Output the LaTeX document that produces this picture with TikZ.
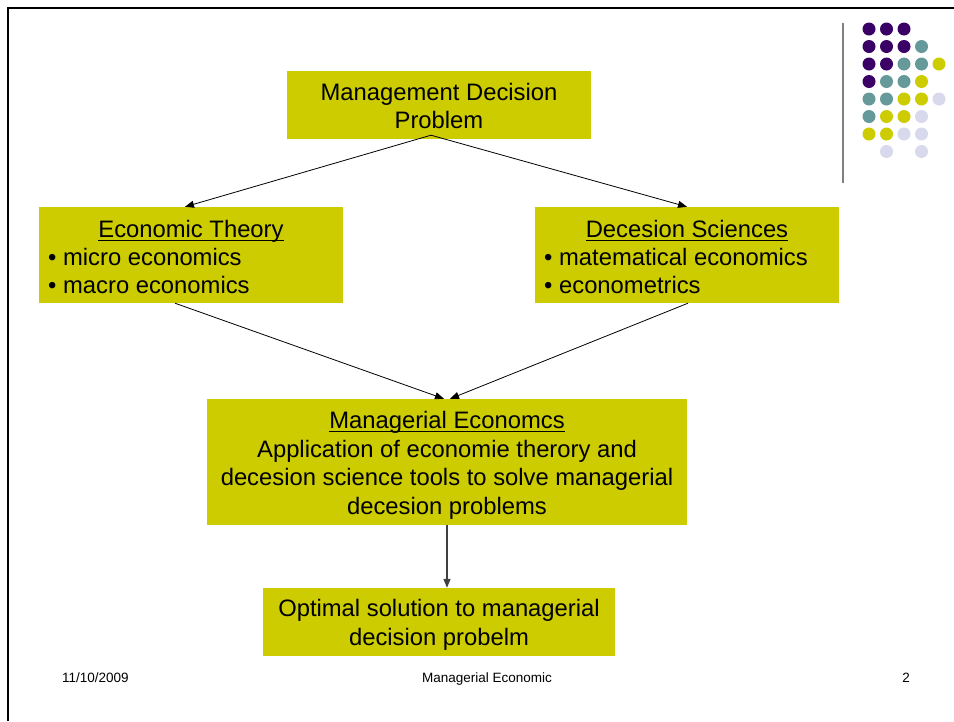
\documentclass[tikz,border=0pt]{standalone}
\usepackage{fontspec}
\setmainfont{Liberation Sans}
\usetikzlibrary{arrows.meta}
\definecolor{boxfill}{HTML}{CCCC00}
\definecolor{dotP}{HTML}{3A0066}
\definecolor{dotT}{HTML}{669999}
\definecolor{dotY}{HTML}{CCCC00}
\definecolor{dotL}{HTML}{D9D9EE}
\newcommand\myul[1]{\setbox0\hbox{#1}\rlap{\rule[-3.5pt]{\wd0}{1.2pt}}\box0}
\tikzset{
  box/.style={fill=boxfill, draw=none, inner sep=0pt},
  txt/.style={inner sep=0pt, anchor=base, font=\fontsize{23.8}{28.5}\selectfont},
  ltxt/.style={txt, anchor=base west},
  foot/.style={inner sep=0pt, anchor=base, font=\fontsize{13.5}{16}\selectfont},
  conn/.style={line width=0.8pt, -{Triangle[length=9pt,width=7pt]}},
  dot/.style={circle, inner sep=0pt, minimum size=13pt, draw=none},
}
\begin{document}
\begin{tikzpicture}[x=1pt,y=-1pt]
\useasboundingbox (0,0) rectangle (954,721);
\fill[white] (0,0) rectangle (954,721);
% frame
\draw[line width=2.5pt] (8,721) -- (8,8) -- (954,8);
% vertical gray line
\draw[line width=1.5pt, gray] (843,23) -- (843,183);
% dot grid
\foreach \row/\cols in {1/{P,P,P},2/{P,P,P,T},3/{P,P,T,T,Y},4/{P,T,T,Y},5/{T,T,Y,Y,L},6/{T,Y,Y,L},7/{Y,Y,L,L}}{
  \foreach \c [count=\i] in \cols {
    \node[dot, fill=dot\c] (d\row-\i) at ({869+(\i-1)*17.5},{29+(\row-1)*17.5}) {};
  }
}
\node[dot, fill=dotL] (d8-2) at (886.5,151.5) {};
\node[dot, fill=dotL] (d8-4) at (921.5,151.5) {};
% boxes
\node[box, minimum width=304pt, minimum height=68pt] (b1) at (439,105) {};
\node[box, minimum width=304pt, minimum height=96pt] (b2) at (191,255) {};
\node[box, minimum width=304pt, minimum height=96pt] (b3) at (687,255) {};
\node[box, minimum width=480pt, minimum height=126pt] (b4) at (447,462) {};
\node[box, minimum width=352pt, minimum height=68pt] (b5) at (439,622) {};
% texts
\node[txt] (t1a) at (439,100.5) {Management Decision};
\node[txt] (t1b) at (439,128.5) {Problem};
\node[txt] (t2a) at (191,237.5) {\myul{Economic Theory}};
\node[ltxt] (t2b) at (48,265) {• micro economics};
\node[ltxt] (t2c) at (48,293.5) {• macro economics};
\node[txt] (t3a) at (687,237.5) {\myul{Decesion Sciences}};
\node[ltxt] (t3b) at (544,265) {• matematical economics};
\node[ltxt] (t3c) at (544,293.5) {• econometrics};
\node[txt] (t4a) at (447,428.5) {\myul{Managerial Economcs}};
\node[txt] (t4b) at (447,457) {Application of economie therory and};
\node[txt] (t4c) at (447,485.5) {decesion science tools to solve managerial};
\node[txt] (t4d) at (447,514) {decesion problems};
\node[txt] (t5a) at (439,616.5) {Optimal solution to managerial};
\node[txt] (t5b) at (439,645) {decision probelm};
% connectors
\draw[conn] ([xshift=-8pt,yshift=4pt]b1.south) -- ([xshift=-6pt]b2.north);
\draw[conn] ([xshift=-8pt,yshift=4pt]b1.south) -- (b3.north);
\draw[conn] ([xshift=-16pt]b2.south) -- ([xshift=-3pt]b4.north);
\draw[conn] ([xshift=1pt]b3.south) -- ([xshift=3pt]b4.north);
\draw[conn, line width=1.2pt, draw=black!75] (b4.south) -- ([xshift=8pt]b5.north);
% footer
\node[foot, anchor=base west] (f1) at (62,682) {11/10/2009};
\node[foot] (f2) at (487,682) {Managerial Economic};
\node[foot] (f3) at (906,682) {2};
\end{tikzpicture}
\end{document}
